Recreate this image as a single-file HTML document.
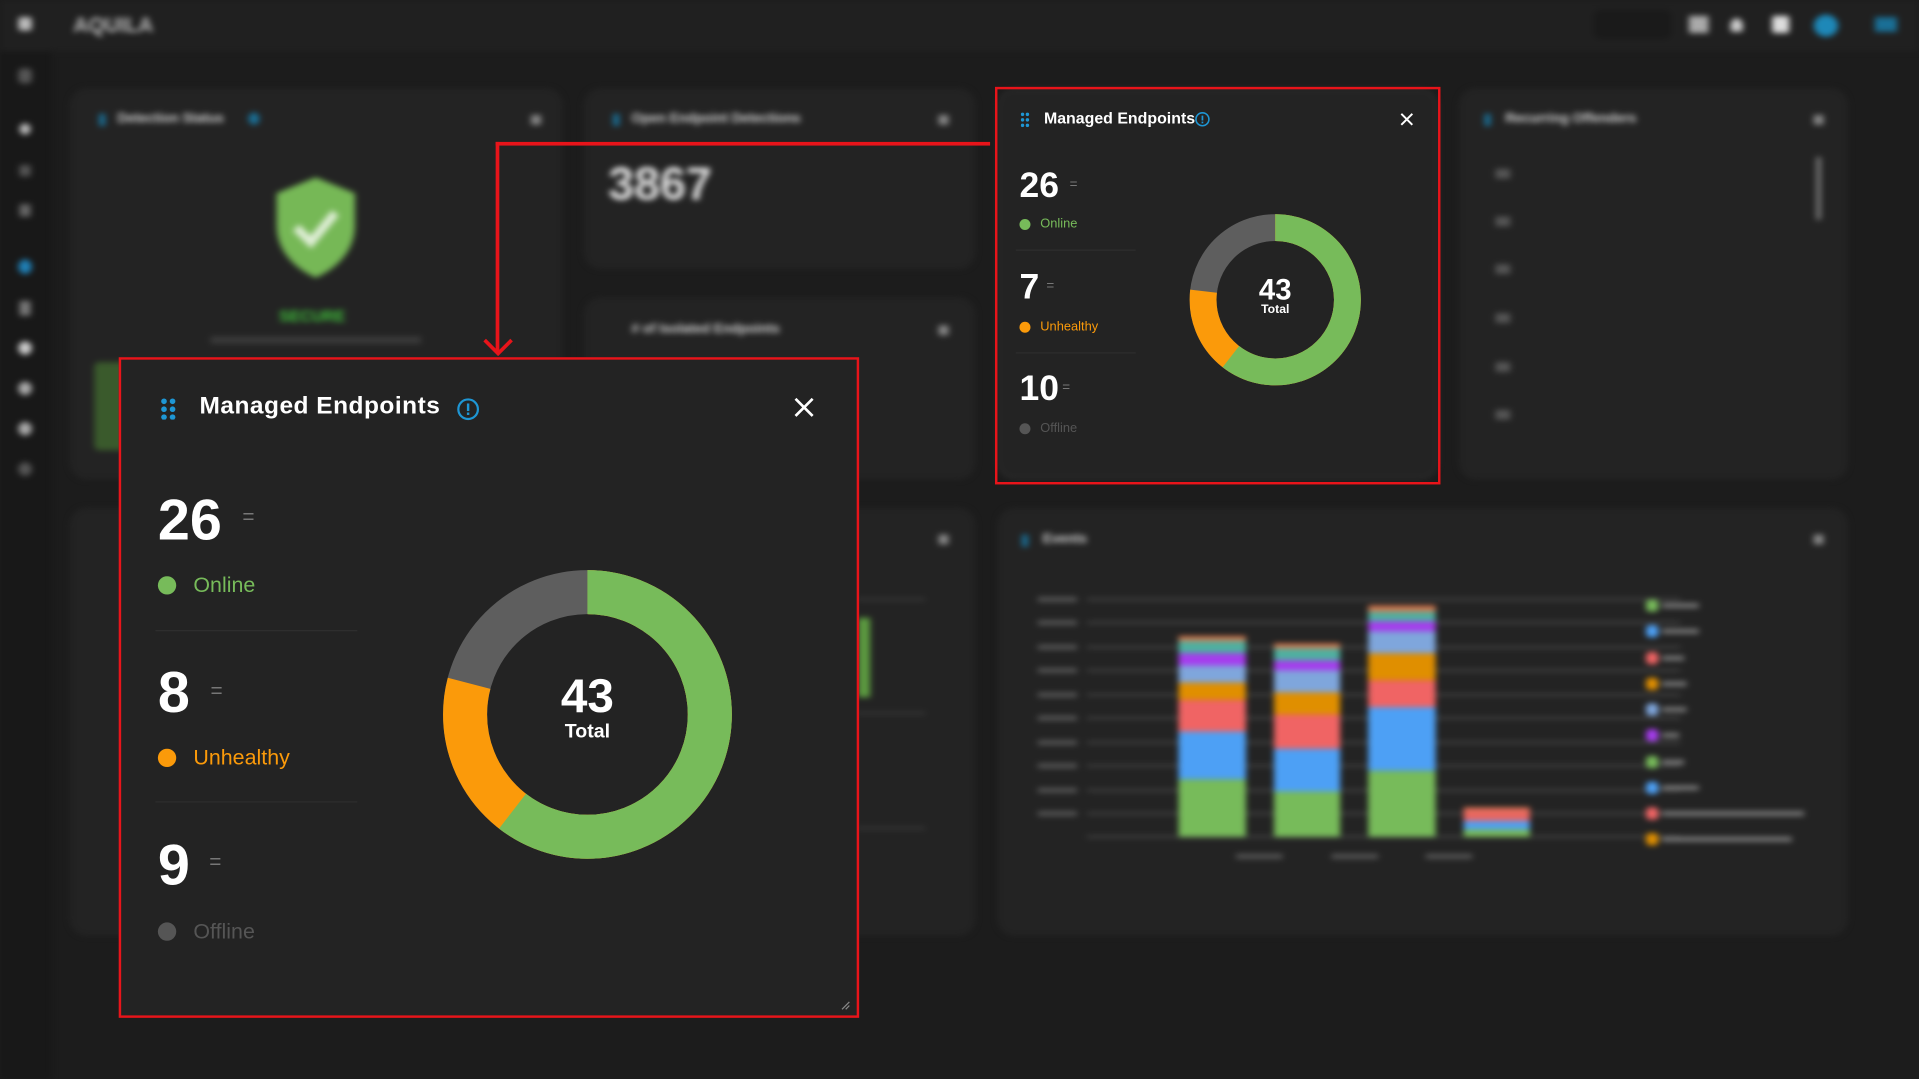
<!DOCTYPE html>
<html><head><meta charset="utf-8"><style>
*{margin:0;padding:0;box-sizing:border-box}
html,body{width:1919px;height:1079px;overflow:hidden;background:#1b1b1b;font-family:"Liberation Sans",sans-serif}
#w{position:absolute;left:0;top:0;width:1568px;height:882px;transform:scale(1.22385,1.22336);transform-origin:0 0;background:#1c1c1c}
.a{position:absolute}
.bg{position:absolute;inset:0;filter:blur(2.5px)}
.card{position:absolute;background:#232323;border-radius:14px}
.t{position:absolute;color:#ddd;font-weight:bold;font-size:11px;white-space:nowrap}
.dim{color:#cfcfcf}
</style></head><body><div id="w">
<div class="bg">
 <div class="a" style="left:0;top:0;width:42px;height:882px;background:#181818"></div>
 <div class="a" style="left:42px;top:0;width:1526px;height:42px;background:#202020"></div>
 <div class="a" style="left:0;top:0;width:42px;height:42px;background:#202020"></div>
 <div class="t" style="left:60px;top:11px;font-size:17px;color:#bbb">AQUILA</div>
 <div class="a" style="left:15px;top:14px;width:11px;height:11px;background:#bbb;border-radius:2px"></div>
 <div class="a" style="left:15px;top:56px;width:11px;height:12px;background:#555;border-radius:3px"></div>
 <div class="a" style="left:16px;top:101px;width:9px;height:9px;background:#bbb;border-radius:50%"></div>
 <div class="a" style="left:16px;top:135px;width:9px;height:9px;background:#555"></div>
 <div class="a" style="left:16px;top:167px;width:9px;height:10px;background:#666"></div>
 <div class="a" style="left:15px;top:212px;width:11px;height:12px;background:#1f7fb5;border-radius:50%"></div>
 <div class="a" style="left:16px;top:246px;width:9px;height:12px;background:#777"></div>
 <div class="a" style="left:15px;top:279px;width:11px;height:11px;background:#ccc;border-radius:50%"></div>
 <div class="a" style="left:15px;top:312px;width:11px;height:11px;background:#aaa;border-radius:50%"></div>
 <div class="a" style="left:15px;top:345px;width:11px;height:11px;background:#aaa;border-radius:50%"></div>
 <div class="a" style="left:15px;top:378px;width:11px;height:11px;background:#555;border-radius:50%"></div>
 <div class="a" style="left:1302px;top:8px;width:64px;height:24px;background:#1a1a1a;border-radius:6px"></div>
 <div class="a" style="left:1380px;top:13px;width:16px;height:14px;background:#aaa"></div>
 <div class="a" style="left:1414px;top:15px;width:10px;height:11px;background:#ccc;border-radius:50% 50% 2px 2px"></div>
 <div class="a" style="left:1448px;top:13px;width:14px;height:14px;background:#ddd;border-radius:2px"></div>
 <div class="a" style="left:1482px;top:12px;width:20px;height:18px;background:#1e88b8;border-radius:50%"></div>
 <div class="a" style="left:1532px;top:14px;width:18px;height:12px;background:#1a6f96"></div>

 <div class="card" style="left:57px;top:72px;width:403px;height:320px"></div>
 <div class="t dim" style="left:96px;top:91px">Detection Status</div>
 <div class="a" style="left:81px;top:93px;width:5px;height:10px;background:#1a6f96"></div>
 <div class="a" style="left:203px;top:92px;width:9px;height:10px;background:#1a6f96;border-radius:50%"></div>
 <svg class="a" style="left:222px;top:142px" width="72" height="88"><path d="M36 3 L68 16 L68 42 C68 64 52 78 36 85 C20 78 4 64 4 42 L4 16 Z" fill="#76b856"/><path d="M20 44 L32 56 L52 32" stroke="#dfeed6" stroke-width="7" fill="none"/></svg>
 <div class="t" style="left:228px;top:251px;color:#3fbf3a;font-size:13px">SECURE</div>
 <div class="a" style="left:172px;top:275px;width:172px;height:6px;background:#3a3a3a"></div>
 <div class="a" style="left:77px;top:296px;width:30px;height:72px;background:#3a5a2c;border-radius:4px"></div>
 <div class="a" style="left:434px;top:94px;width:8px;height:8px;background:#888"></div>

 <div class="card" style="left:477px;top:72px;width:320px;height:148px"></div>
 <div class="t dim" style="left:516px;top:91px">Open Endpoint Detections</div>
 <div class="a" style="left:501px;top:93px;width:5px;height:10px;background:#1a6f96"></div>
 <div class="t" style="left:497px;top:130px;font-size:38px;color:#e0e0e0">3867</div>
 <div class="a" style="left:767px;top:94px;width:8px;height:8px;background:#888"></div>

 <div class="card" style="left:477px;top:243px;width:320px;height:149px"></div>
 <div class="t dim" style="left:516px;top:263px">#  of Isolated Endpoints</div>
 <div class="a" style="left:767px;top:266px;width:8px;height:8px;background:#888"></div>

 <div class="card" style="left:1192px;top:72px;width:318px;height:320px"></div>
 <div class="t dim" style="left:1230px;top:91px">Recurring Offenders</div>
 <div class="a" style="left:1213px;top:93px;width:5px;height:10px;background:#1a6f96"></div>
 <div class="a" style="left:1482px;top:94px;width:8px;height:8px;background:#888"></div>
 <div class="a" style="left:1222px;top:138px;width:12px;height:8px;background:#555"></div>
 <div class="a" style="left:1222px;top:177px;width:12px;height:8px;background:#555"></div>
 <div class="a" style="left:1222px;top:216px;width:12px;height:8px;background:#555"></div>
 <div class="a" style="left:1222px;top:256px;width:12px;height:8px;background:#555"></div>
 <div class="a" style="left:1222px;top:296px;width:12px;height:8px;background:#555"></div>
 <div class="a" style="left:1222px;top:335px;width:12px;height:8px;background:#555"></div>
 <div class="a" style="left:1484px;top:128px;width:4px;height:52px;background:#777;border-radius:2px"></div>

 <div class="card" style="left:57px;top:415px;width:740px;height:350px"></div>
 <div class="a" style="left:767px;top:437px;width:8px;height:8px;background:#888"></div>
 <div class="a" style="left:700px;top:489px;width:56px;height:2px;background:#3a3a3a"></div>
 <div class="a" style="left:700px;top:582px;width:56px;height:2px;background:#3a3a3a"></div>
 <div class="a" style="left:700px;top:676px;width:56px;height:2px;background:#3a3a3a"></div>
 <div class="a" style="left:701px;top:505px;width:10px;height:65px;background:#5c9a40"></div>

 <div class="card" style="left:815px;top:415px;width:695px;height:350px"></div>
 <div class="t dim" style="left:852px;top:435px">Events</div>
 <div class="a" style="left:835px;top:437px;width:5px;height:10px;background:#1a6f96"></div>
 <div class="a" style="left:1482px;top:437px;width:8px;height:8px;background:#888"></div>
 <svg class="a" style="left:840px;top:480px" width="660" height="240">
  <g fill="#444">
   <rect x="48" y="9" width="485" height="2"/><rect x="48" y="28" width="485" height="2"/><rect x="48" y="48" width="485" height="2"/><rect x="48" y="67" width="485" height="2"/><rect x="48" y="87" width="485" height="2"/><rect x="48" y="106" width="485" height="2"/><rect x="48" y="126" width="485" height="2"/><rect x="48" y="145" width="485" height="2"/><rect x="48" y="165" width="485" height="2"/><rect x="48" y="184" width="485" height="2"/><rect x="48" y="203" width="485" height="2"/>
  </g>
  <g fill="#555"><rect x="8" y="8" width="32" height="4"/><rect x="8" y="27" width="32" height="4"/><rect x="8" y="47" width="32" height="4"/><rect x="8" y="66" width="32" height="4"/><rect x="8" y="86" width="32" height="4"/><rect x="8" y="105" width="32" height="4"/><rect x="8" y="125" width="32" height="4"/><rect x="8" y="144" width="32" height="4"/><rect x="8" y="164" width="32" height="4"/><rect x="8" y="183" width="32" height="4"/><rect x="170" y="218" width="38" height="4"/><rect x="248" y="218" width="38" height="4"/><rect x="325" y="218" width="38" height="4"/></g>
  <g transform="translate(123,0)">
   <rect y="157" width="55" height="47" fill="#77bb5a"/><rect y="118" width="55" height="39" fill="#4da0f5"/><rect y="92" width="55" height="26" fill="#f06464"/><rect y="78" width="55" height="14" fill="#e08f00"/><rect y="64" width="55" height="14" fill="#7fa6dc"/><rect y="54" width="55" height="10" fill="#a63cee"/><rect y="44" width="55" height="10" fill="#4fb0a0"/><rect y="40" width="55" height="4" fill="#d77a50"/>
  </g>
  <g transform="translate(201,0)">
   <rect y="167" width="54" height="37" fill="#77bb5a"/><rect y="132" width="54" height="35" fill="#4da0f5"/><rect y="104" width="54" height="28" fill="#f06464"/><rect y="86" width="54" height="18" fill="#e08f00"/><rect y="68" width="54" height="18" fill="#7fa6dc"/><rect y="60" width="54" height="8" fill="#a63cee"/><rect y="50" width="54" height="10" fill="#4fb0a0"/><rect y="46" width="54" height="4" fill="#d77a50"/>
  </g>
  <g transform="translate(278,0)">
   <rect y="150" width="55" height="54" fill="#77bb5a"/><rect y="98" width="55" height="52" fill="#4da0f5"/><rect y="76" width="55" height="22" fill="#f06464"/><rect y="54" width="55" height="22" fill="#e08f00"/><rect y="36" width="55" height="18" fill="#7fa6dc"/><rect y="28" width="55" height="8" fill="#a63cee"/><rect y="20" width="55" height="8" fill="#4fb0a0"/><rect y="15" width="55" height="5" fill="#d77a50"/>
  </g>
  <g transform="translate(356,0)">
   <rect y="198" width="54" height="6" fill="#77bb5a"/><rect y="191" width="54" height="7" fill="#4da0f5"/><rect y="186" width="54" height="5" fill="#f06464"/><rect y="180" width="54" height="6" fill="#d77a50"/><rect y="182" width="54" height="3" fill="#f06464"/>
  </g>
  <g>
   <rect x="505" y="10" width="10" height="10" rx="3" fill="#77bb5a"/><rect x="505" y="31" width="10" height="10" rx="3" fill="#4da0f5"/><rect x="505" y="53" width="10" height="10" rx="3" fill="#f06464"/><rect x="505" y="74" width="10" height="10" rx="3" fill="#e08f00"/><rect x="505" y="95" width="10" height="10" rx="3" fill="#7fa6dc"/><rect x="505" y="116" width="10" height="10" rx="3" fill="#a63cee"/><rect x="505" y="138" width="10" height="10" rx="3" fill="#77bb5a"/><rect x="505" y="159" width="10" height="10" rx="3" fill="#4da0f5"/><rect x="505" y="180" width="10" height="10" rx="3" fill="#f06464"/><rect x="505" y="201" width="10" height="10" rx="3" fill="#e08f00"/>
  </g>
  <g fill="#777"><rect x="518" y="13" width="30" height="4"/><rect x="518" y="34" width="30" height="4"/><rect x="518" y="56" width="18" height="4"/><rect x="518" y="77" width="20" height="4"/><rect x="518" y="98" width="20" height="4"/><rect x="518" y="119" width="14" height="4"/><rect x="518" y="141" width="18" height="4"/><rect x="518" y="162" width="30" height="4"/><rect x="518" y="183" width="116" height="4"/><rect x="518" y="204" width="106" height="4"/></g>
  <rect x="545" y="252" width="105" height="4" fill="#444"/>
 </svg>

 <div class="card" style="left:815px;top:73px;width:360px;height:318px;border:1px solid #3a3a3a"></div>
</div>

<div class="a" style="left:813px;top:71px;width:364px;height:325px;border:2px solid #e8141a"></div>
<div class="a" style="left:834px;top:91px;width:8px;height:12px">
 <svg width="8" height="12"><g fill="#1e96d4"><circle cx="1.5" cy="1.5" r="1.4"/><circle cx="5.5" cy="1.5" r="1.4"/><circle cx="1.5" cy="6" r="1.4"/><circle cx="5.5" cy="6" r="1.4"/><circle cx="1.5" cy="10.5" r="1.4"/><circle cx="5.5" cy="10.5" r="1.4"/></g></svg></div>
<div class="t" style="left:853px;top:89px;font-size:13px;color:#fff">Managed Endpoints</div>
<svg class="a" style="left:976px;top:91px" width="13" height="13"><circle cx="6.5" cy="6.5" r="5.3" stroke="#1e96d4" stroke-width="1.3" fill="none"/><rect x="5.8" y="3.5" width="1.4" height="4" fill="#1e96d4"/><rect x="5.8" y="8.4" width="1.4" height="1.4" fill="#1e96d4"/></svg>
<svg class="a" style="left:1144px;top:92px" width="11" height="11"><path d="M1 1L10 10M10 1L1 10" stroke="#fff" stroke-width="1.6"/></svg>
<div class="t" style="left:833px;top:136px;font-size:29px;color:#fff">26</div>
<div class="t" style="left:874px;top:145px;font-size:11px;color:#777;font-weight:normal">=</div>
<div class="a" style="left:833px;top:179px;width:9px;height:9px;border-radius:50%;background:#77bb5a"></div>
<div class="t" style="left:850px;top:177px;font-size:10.5px;color:#77bb5a;font-weight:normal">Online</div>
<div class="a" style="left:830px;top:204px;width:98px;height:1px;background:#2e2e2e"></div>
<div class="t" style="left:833px;top:219px;font-size:29px;color:#fff">7</div>
<div class="t" style="left:855px;top:228px;font-size:11px;color:#777;font-weight:normal">=</div>
<div class="a" style="left:833px;top:263px;width:9px;height:9px;border-radius:50%;background:#fb9a0a"></div>
<div class="t" style="left:850px;top:261px;font-size:10.5px;color:#fb9a0a;font-weight:normal">Unhealthy</div>
<div class="a" style="left:830px;top:288px;width:98px;height:1px;background:#2e2e2e"></div>
<div class="t" style="left:833px;top:302px;font-size:29px;color:#fff">10</div>
<div class="t" style="left:868px;top:311px;font-size:11px;color:#777;font-weight:normal">=</div>
<div class="a" style="left:833px;top:346px;width:9px;height:9px;border-radius:50%;background:#555"></div>
<div class="t" style="left:850px;top:344px;font-size:10.5px;color:#555;font-weight:normal">Offline</div>
<svg class="a" style="left:972px;top:175px" width="140" height="140" viewBox="0 0 140 140">
 <g transform="rotate(-90 70 70)" fill="none" stroke-width="22">
  <circle cx="70" cy="70" r="59" stroke="#5e5e5e"/>
  <circle cx="70" cy="70" r="59" stroke="#fb9a0a" stroke-dasharray="284.9 1000"/>
  <circle cx="70" cy="70" r="59" stroke="#77bb5a" stroke-dasharray="224.3 1000"/>
 </g>
</svg>
<div class="t" style="left:1002px;top:224px;width:80px;text-align:center;font-size:24px;color:#fff">43</div>
<div class="t" style="left:1002px;top:248px;width:80px;text-align:center;font-size:10px;color:#fff">Total</div>

<div class="a" style="left:405px;top:116px;width:404px;height:3px;background:#e8141a"></div>
<div class="a" style="left:405px;top:116px;width:3px;height:172px;background:#e8141a"></div>
<svg class="a" style="left:394px;top:276px" width="26" height="16"><path d="M2 2 L13 13 L24 2" stroke="#e8141a" stroke-width="3" fill="none"/></svg>

<div class="a" style="left:97px;top:292px;width:605px;height:540px;background:#232323;border:2px solid #e8141a"></div>
<svg class="a" style="left:131px;top:325px" width="14" height="18"><g fill="#1e96d4"><circle cx="3" cy="3" r="2.3"/><circle cx="10" cy="3" r="2.3"/><circle cx="3" cy="9.5" r="2.3"/><circle cx="10" cy="9.5" r="2.3"/><circle cx="3" cy="16" r="2.3"/><circle cx="10" cy="16" r="2.3"/></g></svg>
<div class="t" style="left:163px;top:321px;font-size:20px;color:#fff;letter-spacing:0.4px">Managed Endpoints</div>
<svg class="a" style="left:373px;top:325px" width="19" height="19"><circle cx="9.5" cy="9.5" r="8" stroke="#1e96d4" stroke-width="1.8" fill="none"/><rect x="8.5" y="4.8" width="2" height="6.2" fill="#1e96d4"/><rect x="8.5" y="12.2" width="2" height="2" fill="#1e96d4"/></svg>
<svg class="a" style="left:648px;top:324px" width="18" height="18"><path d="M2 2L16 16M16 2L2 16" stroke="#fff" stroke-width="2.2"/></svg>
<div class="t" style="left:129px;top:397px;font-size:47px;color:#fff">26</div>
<div class="t" style="left:198px;top:413px;font-size:17px;color:#777;font-weight:normal">=</div>
<div class="a" style="left:129px;top:471px;width:15px;height:15px;border-radius:50%;background:#77bb5a"></div>
<div class="t" style="left:158px;top:468px;font-size:17.5px;color:#77bb5a;font-weight:normal">Online</div>
<div class="a" style="left:127px;top:515px;width:165px;height:1px;background:#2e2e2e"></div>
<div class="t" style="left:129px;top:538px;font-size:47px;color:#fff">8</div>
<div class="t" style="left:172px;top:555px;font-size:17px;color:#777;font-weight:normal">=</div>
<div class="a" style="left:129px;top:612px;width:15px;height:15px;border-radius:50%;background:#fb9a0a"></div>
<div class="t" style="left:158px;top:609px;font-size:17.5px;color:#fb9a0a;font-weight:normal">Unhealthy</div>
<div class="a" style="left:127px;top:655px;width:165px;height:1px;background:#2e2e2e"></div>
<div class="t" style="left:129px;top:679px;font-size:47px;color:#fff">9</div>
<div class="t" style="left:171px;top:695px;font-size:17px;color:#777;font-weight:normal">=</div>
<div class="a" style="left:129px;top:754px;width:15px;height:15px;border-radius:50%;background:#555"></div>
<div class="t" style="left:158px;top:751px;font-size:17.5px;color:#555;font-weight:normal">Offline</div>
<svg class="a" style="left:360px;top:464px" width="240" height="240" viewBox="0 0 240 240">
 <g transform="rotate(-90 120 120)" fill="none" stroke-width="36">
  <circle cx="120" cy="120" r="100" stroke="#5e5e5e"/>
  <circle cx="120" cy="120" r="100" stroke="#fb9a0a" stroke-dasharray="496.8 1000"/>
  <circle cx="120" cy="120" r="100" stroke="#77bb5a" stroke-dasharray="379.9 1000"/>
 </g>
</svg>
<div class="t" style="left:430px;top:548px;width:100px;text-align:center;font-size:39px;color:#fff">43</div>
<div class="t" style="left:430px;top:590px;width:100px;text-align:center;font-size:16px;color:#fff">Total</div>
<svg class="a" style="left:687px;top:818px" width="8" height="8"><path d="M1 7L7 1M4 7L7 4" stroke="#888" stroke-width="1"/></svg>
</div></body></html>
